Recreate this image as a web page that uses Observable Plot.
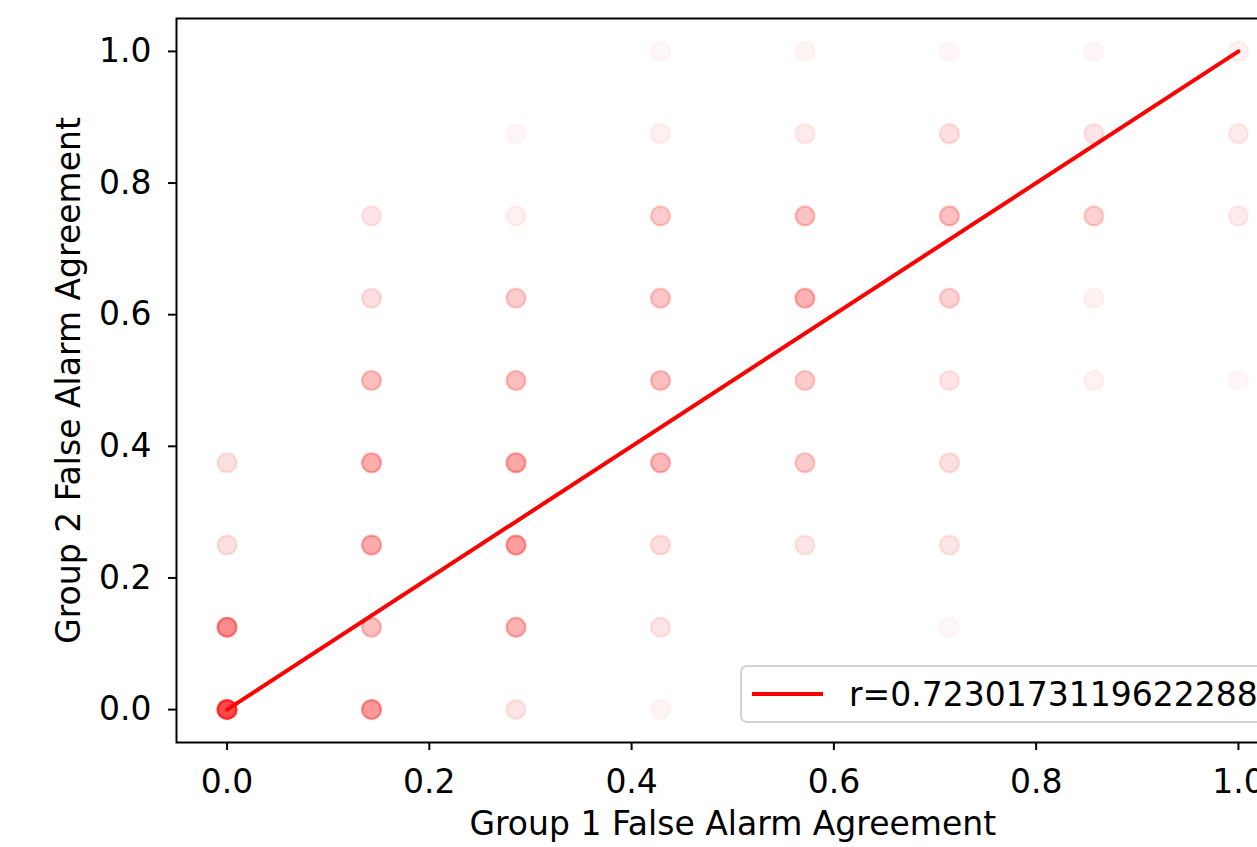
<!DOCTYPE html>
<html>
<head>
<meta charset="utf-8">
<script src="https://cdn.jsdelivr.net/npm/d3@7"></script>
<script src="https://cdn.jsdelivr.net/npm/@observablehq/plot@0.6"></script>
<style>
  html, body { margin: 0; padding: 0; background: #fff; overflow: hidden; }
  #wrap { position: relative; width: 1340px; height: 847px; }
  #legend {
    position: absolute; left: 740px; top: 665px; width: 600px; height: 58px;
    border: 2px solid #d3d3d3; border-radius: 7px; background: rgba(255,255,255,0.8);
    font-family: "DejaVu Sans", sans-serif; font-size: 33px; color: #000;
    display: flex; align-items: center; box-sizing: border-box;
  }
  #legend .swatch { width: 71px; height: 0; border-top: 4px solid red; margin-left: 10px; margin-right: 26px; }
</style>
</head>
<body>
<div id="wrap"></div>
<script>
// Grid of observed (Group 1, Group 2) agreement values; density = visual opacity of overlapping points
const group1 = [
  0, 0, 0, 0,
  1/7, 1/7, 1/7, 1/7, 1/7, 1/7, 1/7,
  2/7, 2/7, 2/7, 2/7, 2/7, 2/7, 2/7, 2/7,
  3/7, 3/7, 3/7, 3/7, 3/7, 3/7, 3/7, 3/7, 3/7,
  4/7, 4/7, 4/7, 4/7, 4/7, 4/7, 4/7,
  5/7, 5/7, 5/7, 5/7, 5/7, 5/7, 5/7, 5/7,
  6/7, 6/7, 6/7, 6/7, 6/7,
  1, 1, 1, 1
];
const group2 = [
  0, 0.125, 0.25, 0.375,
  0, 0.125, 0.25, 0.375, 0.5, 0.625, 0.75,
  0, 0.125, 0.25, 0.375, 0.5, 0.625, 0.75, 0.875,
  0, 0.125, 0.25, 0.375, 0.5, 0.625, 0.75, 0.875, 1.0,
  0.25, 0.375, 0.5, 0.625, 0.75, 0.875, 1.0,
  0.125, 0.25, 0.375, 0.5, 0.625, 0.75, 0.875, 1.0,
  0.5, 0.625, 0.75, 0.875, 1.0,
  0.5, 0.75, 0.875, 1.0
];
const density = [
  0.72, 0.45, 0.12, 0.12,
  0.40, 0.25, 0.33, 0.32, 0.25, 0.13, 0.10,
  0.10, 0.30, 0.38, 0.35, 0.25, 0.20, 0.06, 0.03,
  0.04, 0.10, 0.13, 0.28, 0.25, 0.22, 0.20, 0.06, 0.03,
  0.10, 0.20, 0.20, 0.30, 0.24, 0.08, 0.04,
  0.03, 0.10, 0.12, 0.10, 0.18, 0.25, 0.12, 0.03,
  0.05, 0.05, 0.18, 0.10, 0.03,
  0.03, 0.08, 0.08, 0.05
];
const fitX = [0, 1];
const fitY = [0, 1];
const rValue = 0.7230173119622288;
const xTicks = [0, 0.2, 0.4, 0.6, 0.8, 1.0];
const yTicks = [0, 0.2, 0.4, 0.6, 0.8, 1.0];
const xLabel = "Group 1 False Alarm Agreement";
const yLabel = "Group 2 False Alarm Agreement";

const points = group1.map((g, i) => ({g1: g, g2: group2[i], a: density[i]}));
const fit = fitX.map((x, i) => ({x, y: fitY[i]}));

const chart = Plot.plot({
  width: 1340,
  height: 847,
  marginLeft: 176,
  marginRight: 51.5,
  marginTop: 18,
  marginBottom: 105,
  style: {fontFamily: "DejaVu Sans, sans-serif", fontSize: "33px", color: "#000", background: "#fff"},
  x: {domain: [-0.05, 1.05]},
  y: {domain: [-0.05, 1.05]},
  opacity: {domain: [0, 1], range: [0, 1]},
  marks: [
    Plot.dot(points, {x: "g1", y: "g2", r: 9.5, fill: "red", stroke: "red", strokeWidth: 2.2,
      fillOpacity: "a", strokeOpacity: "a"}),
    Plot.line(fit, {x: "x", y: "y", stroke: "red", strokeWidth: 4}),
    Plot.axisX({ticks: xTicks, tickFormat: d3.format(".1f"), tickSize: 8, tickPadding: 19, strokeWidth: 2, label: null}),
    Plot.axisY({ticks: yTicks, tickFormat: d3.format(".1f"), tickSize: 8, tickPadding: 17, strokeWidth: 2, label: null}),
    Plot.frame({stroke: "black", strokeWidth: 2}),
    Plot.text([xLabel], {text: d => d, frameAnchor: "bottom", dy: 82, textAnchor: "middle", lineAnchor: "middle", fontSize: 33}),
    Plot.text([yLabel], {text: d => d, frameAnchor: "left", rotate: -90, dx: -107, textAnchor: "middle", lineAnchor: "middle", fontSize: 33})
  ]
});

const wrap = document.getElementById("wrap");
wrap.appendChild(chart);
const legend = document.createElement("div");
legend.id = "legend";
const sw = document.createElement("span");
sw.className = "swatch";
const lt = document.createElement("span");
lt.textContent = "r=" + rValue;
legend.appendChild(sw);
legend.appendChild(lt);
wrap.appendChild(legend);
</script>
</body>
</html>
